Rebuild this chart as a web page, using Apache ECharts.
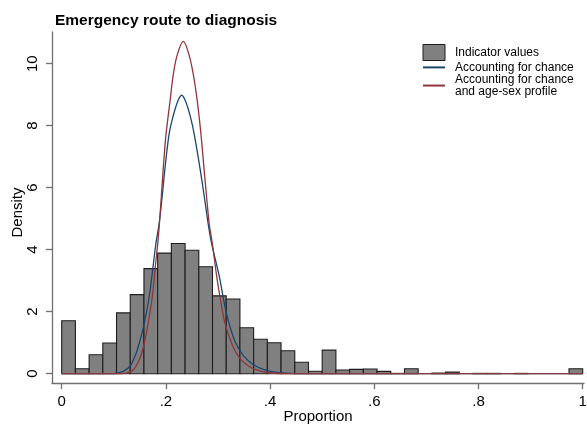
<!DOCTYPE html>
<html>
<head>
<meta charset="utf-8">
<script src="https://cdn.jsdelivr.net/npm/echarts@6/dist/echarts.min.js"></script>
<style>
html,body{margin:0;padding:0;background:#fff;}
#chart{width:587px;height:424px;}
</style>
</head>
<body>
<div id="chart"></div>
<script>
// ---- data ----
const binCount = 38; // histogram bins spanning 0..1
const binHeights = [1.71, 0.16, 0.61, 0.99, 1.96, 2.55, 3.39, 3.89, 4.20, 3.98,
                    3.45, 2.51, 2.41, 1.48, 1.11, 1.00, 0.74, 0.37, 0.08, 0.76,
                    0.12, 0.14, 0.15, 0.075, 0.01, 0.16, 0, 0.02, 0.05, 0,
                    0.01, 0.01, 0, 0.01, 0, 0, 0, 0.16];

const chanceX = [0, 0.095, 0.106, 0.118, 0.131, 0.1407, 0.149, 0.1586, 0.168, 0.1746,
                 0.181, 0.1868, 0.1919, 0.1983, 0.206, 0.213, 0.2226, 0.2303, 0.238, 0.2476,
                 0.2545, 0.2654, 0.275, 0.2814, 0.2875, 0.3025, 0.312, 0.321, 0.334, 0.350,
                 0.368, 0.390, 0.409, 0.44, 0.48, 1];
const chanceY = [0, 0, 0.02, 0.075, 0.24, 0.56, 0.99, 1.63, 2.49, 3.35,
                 4.22, 4.81, 5.56, 6.63, 7.71, 8.25, 8.78, 8.98, 8.78, 8.25,
                 7.71, 6.63, 5.56, 4.81, 4.22, 3.14, 2.28, 1.63, 0.99, 0.56,
                 0.29, 0.12, 0.05, 0.01, 0, 0];

const ageSexX = [0, 0.11, 0.122, 0.134, 0.1426, 0.1516, 0.1586, 0.166, 0.174, 0.179,
                 0.1845, 0.1874, 0.1906, 0.195, 0.2002, 0.2079, 0.2142, 0.2219, 0.2334, 0.2443,
                 0.2526, 0.2603, 0.2674, 0.2731, 0.2789, 0.2833, 0.289, 0.2975, 0.3058, 0.3134,
                 0.326, 0.339, 0.355, 0.374, 0.397, 0.43, 0.47, 1];
const ageSexY = [0, 0, 0.02, 0.075, 0.24, 0.56, 0.99, 1.63, 2.49, 3.35,
                 4.22, 4.81, 5.56, 6.63, 7.71, 8.78, 9.65, 10.29, 10.72, 10.29,
                 9.65, 8.78, 7.71, 6.63, 5.56, 4.81, 4.22, 3.14, 2.28, 1.63,
                 0.99, 0.56, 0.29, 0.12, 0.03, 0.005, 0, 0];

const xTicks = [0, 0.2, 0.4, 0.6, 0.8, 1];
const xTickLabels = ['0', '.2', '.4', '.6', '.8', '1'];
const yTicks = [0, 2, 4, 6, 8, 10];

const titleText = 'Emergency route to diagnosis';
const nameHist = 'Indicator values';
const nameChance = 'Accounting for chance';
const nameAgeSex = 'Accounting for chance\nand age-sex profile';

// ---- chart ----
const FONT = 'Liberation Sans, Arial, sans-serif';
const binWidth = 1 / binCount;
const histData = binHeights.map((h, i) => [i * binWidth, (i + 1) * binWidth, h]);
const chanceData = chanceX.map((x, i) => [x, chanceY[i]]);
const ageSexData = ageSexX.map((x, i) => [x, ageSexY[i]]);

const chart = echarts.init(document.getElementById('chart'), null, {renderer: 'canvas'});
chart.setOption({
  animation: false,
  backgroundColor: '#fff',
  title: {
    text: titleText,
    left: 55, top: 13, padding: 0,
    textStyle: {fontFamily: FONT, fontSize: 15.5, fontWeight: 'bold', color: '#000'}
  },
  legend: {
    orient: 'vertical',
    left: 422, top: 44, padding: 0,
    itemWidth: 22, itemHeight: 16, itemGap: 0,
    textStyle: {fontFamily: FONT, fontSize: 12, lineHeight: 11.5, color: '#000', padding: [0, 0, 0, 5]},
    data: [
      {name: nameHist, icon: 'rect', itemStyle: {color: '#808080', borderColor: '#1e1e1e', borderWidth: 1}},
      {name: nameChance, itemStyle: {opacity: 0}},
      {name: nameAgeSex, itemStyle: {opacity: 0}}
    ]
  },
  grid: {left: 52, top: 32, width: 532, height: 351, containLabel: false, outerBoundsMode: 'none'},
  xAxis: {
    type: 'value',
    min: -0.0186, max: 1.0025,
    splitLine: {show: false},
    axisLine: {show: true, onZero: false, lineStyle: {color: '#707070', width: 1.3}},
    axisTick: {show: true, length: 6, customValues: xTicks, lineStyle: {color: '#707070', width: 1.3}},
    axisLabel: {
      customValues: xTicks, margin: 11,
      fontFamily: FONT, fontSize: 15, color: '#000',
      formatter: v => { const k = xTicks.findIndex(t => Math.abs(t - v) < 1e-9); return k >= 0 ? xTickLabels[k] : ''; }
    },
    name: 'Proportion', nameLocation: 'middle', nameGap: 26, nameMoveOverlap: false,
    nameTextStyle: {fontFamily: FONT, fontSize: 15, color: '#000'}
  },
  yAxis: {
    type: 'value',
    min: -0.3, max: 11.02,
    splitLine: {show: false},
    axisLine: {show: true, onZero: false, lineStyle: {color: '#707070', width: 1.3}},
    axisTick: {show: true, length: 6, customValues: yTicks, lineStyle: {color: '#707070', width: 1.3}},
    axisLabel: {
      customValues: yTicks, rotate: 90, margin: 12,
      fontFamily: FONT, fontSize: 15, color: '#000'
    },
    name: 'Density', nameLocation: 'middle', nameGap: 27, nameRotate: 90, nameMoveOverlap: false,
    nameTextStyle: {fontFamily: FONT, fontSize: 15, color: '#000', padding: [0, 10, 0, 0]}
  },
  series: [
    {
      name: nameHist,
      type: 'custom',
      data: histData,
      encode: {x: [0, 1], y: 2},
      itemStyle: {color: '#808080', borderColor: '#1e1e1e', borderWidth: 1},
      renderItem: function (params, api) {
        const h = api.value(2);
        if (!(h > 0)) return null;
        const p0 = api.coord([api.value(0), 0]);
        const p1 = api.coord([api.value(1), h]);
        return {
          type: 'rect',
          shape: {x: p0[0], y: p1[1], width: p1[0] - p0[0], height: p0[1] - p1[1]},
          style: {fill: '#808080', stroke: '#1e1e1e', lineWidth: 1.1}
        };
      },
      z: 1
    },
    {
      name: nameChance,
      type: 'line',
      data: chanceData,
      smooth: 0.35,
      symbol: 'none',
      lineStyle: {color: '#1a476f', width: 1.3},
      itemStyle: {color: '#1a476f'},
      z: 3
    },
    {
      name: nameAgeSex,
      type: 'line',
      data: ageSexData,
      smooth: 0.35,
      symbol: 'none',
      lineStyle: {color: '#90353b', width: 1.3},
      itemStyle: {color: '#90353b'},
      z: 4
    }
  ]
});
</script>
</body>
</html>
